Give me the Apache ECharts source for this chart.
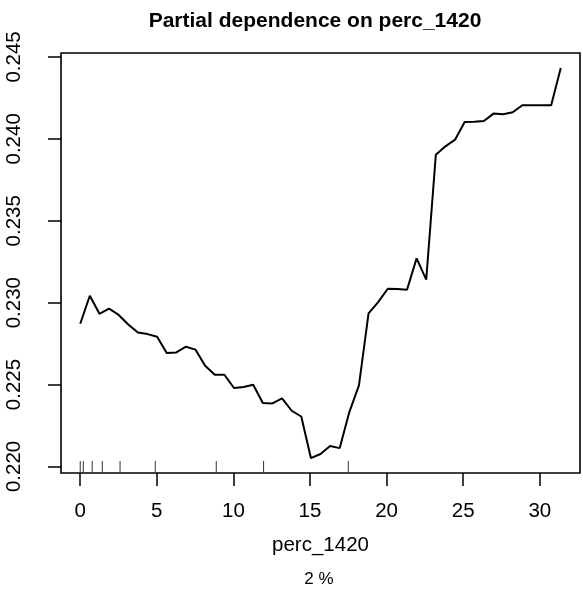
<!DOCTYPE html>
<html>
<head>
<meta charset="utf-8">
<script src="https://cdn.jsdelivr.net/npm/echarts@6/dist/echarts.min.js"></script>
<style>
html,body{margin:0;padding:0;background:#fff;}
#chart{width:583px;height:593px;}
</style>
</head>
<body>
<div id="chart"></div>
<script>
const xValues = [0, 0.627, 1.255, 1.882, 2.510, 3.137, 3.764, 4.392, 5.019, 5.647,
  6.274, 6.901, 7.529, 8.156, 8.784, 9.411, 10.038, 10.666, 11.293, 11.921,
  12.548, 13.175, 13.803, 14.430, 15.058, 15.685, 16.312, 16.940, 17.567, 18.195,
  18.822, 19.449, 20.077, 20.704, 21.332, 21.959, 22.586, 23.214, 23.841, 24.469,
  25.096, 25.723, 26.351, 26.978, 27.606, 28.233, 28.860, 29.488, 30.115, 30.743, 31.370];
const pdValues = [0.22871, 0.23042, 0.22932, 0.22963, 0.22925, 0.22867, 0.22818, 0.22808, 0.22792, 0.22692,
  0.22696, 0.22731, 0.22713, 0.22615, 0.22560, 0.22560, 0.22479, 0.22485, 0.22499, 0.22387,
  0.22385, 0.22415, 0.22340, 0.22305, 0.22051, 0.22076, 0.22125, 0.22112, 0.22332, 0.22495,
  0.22935, 0.23003, 0.23085, 0.23083, 0.23079, 0.23270, 0.23140, 0.23903, 0.23954, 0.23995,
  0.24103, 0.24105, 0.24109, 0.24154, 0.24150, 0.24162, 0.24205, 0.24205, 0.24205, 0.24205, 0.24433];
const rugValues = [0, 0.2, 0.78, 1.44, 2.6, 4.9, 8.88, 11.97, 17.5];
const xTicks = [0, 5, 10, 15, 20, 25, 30];
const yTicks = [0.220, 0.225, 0.230, 0.235, 0.240, 0.245];
const yTickLabels = ['0.220', '0.225', '0.230', '0.235', '0.240', '0.245'];
const titleText = 'Partial dependence on perc_1420';
const xName = 'perc_1420';
const subText = '2 %';

const X_MIN = -1.255, X_MAX = 32.625;
const Y_MIN = 0.21960, Y_MAX = 0.24524;
const FONT = '"Liberation Sans", Arial, Helvetica, sans-serif';

const chart = echarts.init(document.getElementById('chart'), null, {renderer: 'canvas'});
chart.setOption({
  animation: false,
  backgroundColor: '#fff',
  title: [
    {text: titleText, left: 310, textAlign: 'center', top: 6,
     textStyle: {fontFamily: FONT, fontWeight: 'bold', fontSize: 21, color: '#000'}},
    {text: subText, left: 314, textAlign: 'center', top: 566,
     textStyle: {fontFamily: FONT, fontWeight: 'normal', fontSize: 17, color: '#000'}}
  ],
  grid: {left: 61, top: 53, width: 519, height: 420, show: true,
         borderColor: '#000', borderWidth: 1.6, backgroundColor: 'transparent'},
  xAxis: {
    type: 'value', min: X_MIN, max: X_MAX,
    name: xName, nameLocation: 'middle', nameGap: 62,
    nameTextStyle: {fontFamily: FONT, fontSize: 20.5, color: '#000'},
    axisLine: {show: false, onZero: false},
    splitLine: {show: false},
    axisTick: {show: true, inside: false, length: 13, customValues: xTicks,
               lineStyle: {color: '#000', width: 1.5}},
    axisLabel: {customValues: xTicks, margin: 28, fontFamily: FONT, fontSize: 20.5, color: '#000'}
  },
  yAxis: {
    type: 'value', min: Y_MIN, max: Y_MAX,
    axisLine: {show: false, onZero: false},
    splitLine: {show: false},
    axisTick: {show: true, inside: false, length: 13, customValues: yTicks,
               lineStyle: {color: '#000', width: 1.5}},
    axisLabel: {customValues: yTicks, rotate: 90, margin: 36, fontFamily: FONT, fontSize: 20.5, color: '#000',
                formatter: function (v) {
                  const i = yTicks.findIndex(t => Math.abs(t - v) < 1e-9);
                  return i >= 0 ? yTickLabels[i] : '';
                }}
  },
  series: [
    {
      type: 'line',
      data: xValues.map((x, i) => [x, pdValues[i]]),
      showSymbol: false,
      lineStyle: {color: '#000', width: 2},
      z: 3
    },
    {
      type: 'custom',
      data: rugValues.map(v => [v, Y_MIN]),
      renderItem: function (params, api) {
        const p = api.coord([api.value(0), api.value(1)]);
        return {type: 'line', shape: {x1: p[0], y1: p[1], x2: p[0], y2: p[1] - 12},
                style: {stroke: '#333', lineWidth: 1}};
      },
      z: 2
    }
  ]
});
</script>
</body>
</html>
